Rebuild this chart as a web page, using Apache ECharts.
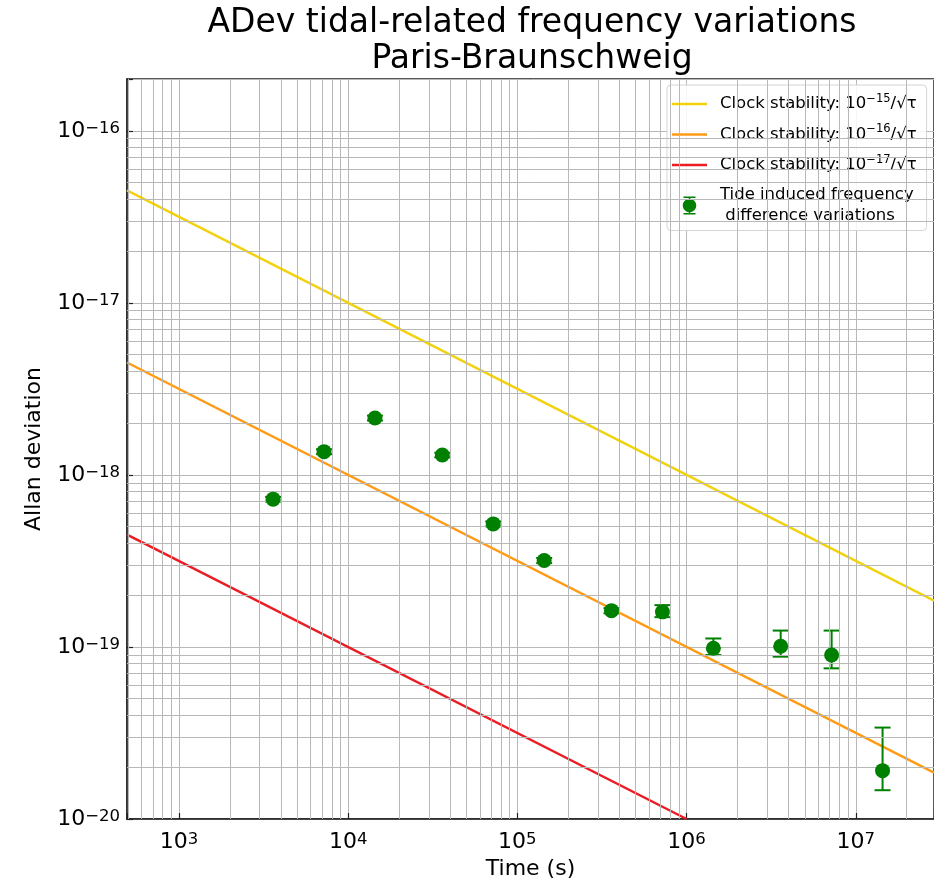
<!DOCTYPE html>
<html>
<head>
<meta charset="utf-8">
<script src="https://cdn.jsdelivr.net/npm/echarts@6/dist/echarts.min.js"></script>
<style>
html, body { margin: 0; padding: 0; background: #fff; }
#chart1 { width: 934px; height: 882px; }
</style>
</head>
<body>
<div id="chart1"></div>
<script>
// averaging times (s) and tide induced ADev with error bars
var tau = [3600, 7200, 14400, 36000, 72000, 144000, 360000, 720000, 1440000, 3600000, 7200000, 14400000];
var adev = [7.23e-19, 1.365e-18, 2.14e-18, 1.305e-18, 5.19e-19, 3.18e-19, 1.625e-19, 1.60e-19, 9.82e-20, 1.01e-19, 8.97e-20, 1.91e-20];
var adevLow = [7.0e-19, 1.32e-18, 2.07e-18, 1.265e-18, 5.02e-19, 3.07e-19, 1.57e-19, 1.49e-19, 8.97e-20, 8.78e-20, 7.51e-20, 1.47e-20];
var adevHigh = [7.45e-19, 1.41e-18, 2.21e-18, 1.345e-18, 5.36e-19, 3.29e-19, 1.68e-19, 1.75e-19, 1.12e-19, 1.245e-19, 1.245e-19, 3.40e-20];

// clock stability lines (end points)
var lineTau = [493, 29000000];
var stab15 = [4.50e-17, 1.857e-19];
var stab16 = [4.50e-18, 1.857e-20];
var redTau = [493, 1000000];
var stab17 = [4.50e-19, 1.0e-20];

// axes
var xMin = 493, xMax = 29000000;
var yMin = 1e-20, yMax = 2e-16;
var xDecades = [1e2, 1e3, 1e4, 1e5, 1e6, 1e7];
var yDecades = [1e-20, 1e-19, 1e-18, 1e-17, 1e-16];
var minorFactors = [2, 3, 4, 5, 6, 7, 8, 9];

var legendNames = ['c15', 'c16', 'c17', 'tide'];
var legendLabels = [
    'Clock stability: 10{s|\u221215}/\u221a\u03c4',
    'Clock stability: 10{s|\u221216}/\u221a\u03c4',
    'Clock stability: 10{s|\u221217}/\u221a\u03c4',
    'Tide induced frequency\n difference variations'
];

var FONT = 'DejaVu Sans';
var GREEN = '#008000';
var LINE_ICON = 'path://M0,0H35V2.5H0Z';

function minorValues (decades, lo, hi) {
    var out = [];
    decades.forEach(function (d) {
        minorFactors.forEach(function (k) {
            var v = k * d;
            if (v > lo * 1.001 && v < hi * 0.999) out.push(v);
        });
    });
    return out;
}

function sciLabel (v) {
    var e = Math.log10(v);
    var r = Math.round(e);
    if (Math.abs(e - r) > 1e-6) return '';
    return '{b|10}{s|' + (r < 0 ? '\u2212' + (-r) : r) + '}';
}

var labelRich = {
    b: { fontSize: 22, lineHeight: 22, fontFamily: FONT, color: '#000', verticalAlign: 'bottom', padding: [8, 0, 0, 0] },
    s: { fontSize: 16.5, lineHeight: 16.5, fontFamily: FONT, color: '#000', verticalAlign: 'top' }
};

_initChart();

function _initChart () {
    var myChart = echarts.init(document.getElementById('chart1'));
    var gridLine = { color: '#b8b8b8', width: 1, type: 'solid' };
    var axisLine = { show: true, lineStyle: { color: '#222', width: 1.5 } };
    var axisTick = { show: true, inside: true, length: 6, lineStyle: { color: '#222', width: 1.2 } };

    // minor grid lines at 2..9 x 10^n, drawn through the axes
    var minorMarks = minorValues(xDecades, xMin, xMax).map(function (v) {
        return [{ coord: [v, yMin] }, { coord: [v, yMax] }];
    }).concat(minorValues(yDecades, yMin, yMax).map(function (v) {
        return [{ coord: [xMin, v] }, { coord: [xMax, v] }];
    }));

    var option = {
        backgroundColor: '#fff',
        animation: false,
        textStyle: { fontFamily: FONT },
        graphic: [{
            type: 'text',
            x: 532,
            y: 5,
            style: {
                text: 'ADev tidal-related frequency variations\nParis-Braunschweig',
                fill: '#000',
                fontSize: 33,
                fontFamily: FONT,
                lineHeight: 36,
                align: 'center',
                verticalAlign: 'top'
            }
        }],
        grid: {
            left: 127,
            right: 0,
            top: 79,
            bottom: 63,
            show: true,
            borderColor: '#222',
            borderWidth: 1.5,
            containLabel: false,
            outerBoundsMode: 'none'
        },
        legend: {
            orient: 'vertical',
            left: 667,
            top: 85,
            itemWidth: 35,
            itemHeight: 18,
            itemGap: 8.5,
            padding: [8, 10, 4, 5],
            backgroundColor: 'rgba(255,255,255,0.85)',
            borderColor: '#d4d4d4',
            borderWidth: 1,
            borderRadius: 4,
            selectedMode: false,
            data: [
                { name: 'c15', icon: LINE_ICON },
                { name: 'c16', icon: LINE_ICON },
                { name: 'c17', icon: LINE_ICON },
                { name: 'tide', icon: 'path://M2,0H14V1.6H2Z M7.2,0H8.8V18H7.2Z M2,16.4H14V18H2Z M14.8,9A6.8,6.8,0,1,1,1.2,9A6.8,6.8,0,1,1,14.8,9Z' }
            ],
            formatter: function (name) {
                return legendLabels[legendNames.indexOf(name)];
            },
            textStyle: {
                fontFamily: FONT,
                fontSize: 16.5,
                lineHeight: 21,
                color: '#000',
                padding: [0, 0, 0, 8],
                rich: {
                    s: { fontSize: 11.5, lineHeight: 11, fontFamily: FONT, color: '#000', padding: [0, 0, 10, 0] }
                }
            }
        },
        xAxis: {
            type: 'log',
            logBase: 10,
            min: xMin,
            max: xMax,
            name: 'Time (s)',
            nameLocation: 'middle',
            nameGap: 38,
            nameTextStyle: { fontSize: 22, fontFamily: FONT, color: '#000' },
            axisLine: axisLine,
            axisTick: axisTick,
            axisLabel: { margin: 12, formatter: sciLabel, rich: labelRich },
            splitLine: { show: true, lineStyle: gridLine }
        },
        yAxis: {
            type: 'log',
            logBase: 10,
            min: yMin,
            max: yMax,
            name: 'Allan deviation',
            nameLocation: 'middle',
            nameGap: 82,
            nameTextStyle: { fontSize: 22, fontFamily: FONT, color: '#000' },
            axisLine: axisLine,
            axisTick: axisTick,
            axisLabel: { margin: 7, formatter: sciLabel, rich: labelRich },
            splitLine: { show: true, lineStyle: gridLine }
        },
        series: [
            {
                name: 'minorGrid',
                type: 'scatter',
                data: [],
                z: 1,
                silent: true,
                markLine: {
                    silent: true,
                    symbol: 'none',
                    animation: false,
                    label: { show: false },
                    lineStyle: gridLine,
                    emphasis: { disabled: true },
                    data: minorMarks
                }
            },
            {
                name: 'c15',
                type: 'line',
                data: lineTau.map(function (t, i) { return [t, stab15[i]]; }),
                symbol: 'none',
                lineStyle: { color: '#f2d20f', width: 2.5 },
                itemStyle: { color: '#f2d20f' },
                z: 3
            },
            {
                name: 'c16',
                type: 'line',
                data: lineTau.map(function (t, i) { return [t, stab16[i]]; }),
                symbol: 'none',
                lineStyle: { color: '#ff9a14', width: 2.5 },
                itemStyle: { color: '#ff9a14' },
                z: 3
            },
            {
                name: 'c17',
                type: 'line',
                data: redTau.map(function (t, i) { return [t, stab17[i]]; }),
                symbol: 'none',
                lineStyle: { color: '#ec1c24', width: 2.5 },
                itemStyle: { color: '#ec1c24' },
                z: 3
            },
            {
                name: 'tideErr',
                type: 'custom',
                z: 4,
                data: tau.map(function (t, i) { return [t, adev[i], adevLow[i], adevHigh[i]]; }),
                encode: { x: 0, y: 1 },
                renderItem: function (params, api) {
                    var lo = api.coord([api.value(0), api.value(2)]);
                    var hi = api.coord([api.value(0), api.value(3)]);
                    var w = 8;
                    var st = { stroke: GREEN, lineWidth: 2 };
                    return {
                        type: 'group',
                        children: [
                            { type: 'line', shape: { x1: lo[0], y1: lo[1], x2: hi[0], y2: hi[1] }, style: st },
                            { type: 'line', shape: { x1: lo[0] - w, y1: lo[1], x2: lo[0] + w, y2: lo[1] }, style: st },
                            { type: 'line', shape: { x1: hi[0] - w, y1: hi[1], x2: hi[0] + w, y2: hi[1] }, style: st }
                        ]
                    };
                }
            },
            {
                name: 'tide',
                type: 'scatter',
                data: tau.map(function (t, i) { return [t, adev[i]]; }),
                symbol: 'circle',
                symbolSize: 15,
                itemStyle: { color: GREEN, opacity: 1 },
                z: 5
            }
        ]
    };
    myChart.setOption(option);
    window.onresize = myChart.resize;
}
</script>
</body>
</html>
